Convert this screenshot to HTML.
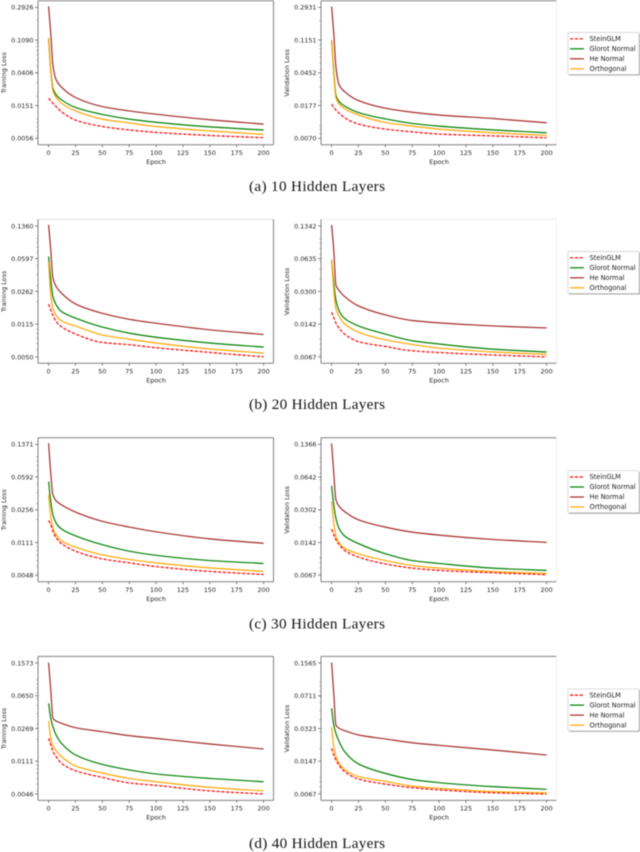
<!DOCTYPE html>
<html>
<head>
<meta charset="utf-8">
<title>Training and validation loss by hidden layers</title>
<style>
html,body{margin:0;padding:0;background:#fff;width:640px;height:852px;overflow:hidden}
svg{display:block;filter:blur(0.45px)}
text{font-family:"DejaVu Sans","Liberation Sans",sans-serif;fill:#222}
text.cap{font-family:"Liberation Serif",serif;fill:#111}
</style>
</head>
<body>
<svg id="fig" xmlns="http://www.w3.org/2000/svg" width="640" height="852" viewBox="0 0 640 852">
<text class="cap" x="317" y="191" font-size="15.2" text-anchor="middle" textLength="136" lengthAdjust="spacing">(a) 10 Hidden Layers</text>
<text class="cap" x="317" y="409" font-size="15.2" text-anchor="middle" textLength="136" lengthAdjust="spacing">(b) 20 Hidden Layers</text>
<text class="cap" x="317" y="628.5" font-size="15.2" text-anchor="middle" textLength="136" lengthAdjust="spacing">(c) 30 Hidden Layers</text>
<text class="cap" x="317" y="848" font-size="15.2" text-anchor="middle" textLength="136" lengthAdjust="spacing">(d) 40 Hidden Layers</text>
</svg>
<script>
const epochs = [0,2,4,7,12,25,50,75,100,150,200];
const xTickLabels = [0,25,50,75,100,125,150,175,200];
const legendLabels = ["SteinGLM","Glorot Normal","He Normal","Orthogonal"];

const ticksATrain = ["0.2926","0.1090","0.0406","0.0151","0.0056"];
const redATrain = [.0188,.0173,.0161,.0146,.0125,.0097,.0080,.0072,.0067,.0061,.0057];
const greenATrain = [.115,.0444,.0254,.0208,.0179,.0142,.0115,.0100,.0091,.0079,.0072];
const brownATrain = [.300,.134,.0515,.0327,.0262,.0192,.0146,.0128,.0116,.0098,.0086];
const orangeATrain = [.115,.0421,.0236,.0192,.0161,.0128,.0100,.0089,.0080,.0070,.0063];

const ticksAVal = ["0.2931","0.1151","0.0452","0.0177","0.0070"];
const redAVal = [.0185,.0169,.0157,.0143,.0126,.0105,.0091,.0084,.0079,.0075,.0071];
const greenAVal = [.1151,.0469,.0241,.0199,.0176,.0146,.0122,.0107,.0099,.0089,.0082];
const brownAVal = [.2995,.140,.0541,.0320,.0265,.0205,.0165,.0147,.0136,.0123,.0109];
const orangeAVal = [.1151,.0447,.0225,.0186,.0163,.0136,.0110,.0099,.0091,.0082,.0076];

const ticksBTrain = ["0.1360","0.0597","0.0262","0.0115","0.0050"];
const redBTrain = [.0189,.0164,.0142,.0122,.0107,.0089,.0072,.0068,.0063,.0056,.0050];
const greenBTrain = [.0628,.0349,.0229,.0186,.0157,.0133,.0106,.0091,.0082,.0071,.0064];
const brownBTrain = [.1397,.0744,.0364,.0295,.0249,.0190,.0150,.0129,.0117,.0099,.0088];
const orangeBTrain = [.0554,.0239,.0171,.0142,.0124,.0109,.0087,.0078,.0071,.0061,.0055];

const ticksBVal = ["0.1342","0.0635","0.0300","0.0142","0.0067"];
const redBVal = [.0186,.0165,.0145,.0129,.0113,.0095,.0085,.0077,.0074,.0070,.0067];
const greenBVal = [.0617,.0362,.0247,.0192,.0162,.0136,.0113,.0097,.0090,.0080,.0075];
const brownBVal = [.1372,.0777,.0348,.0306,.0267,.0215,.0175,.0154,.0146,.0136,.0130];
const orangeBVal = [.0617,.0311,.0201,.0169,.0143,.0118,.0099,.0089,.0082,.0075,.0071];

const ticksCTrain = ["0.1371","0.0592","0.0256","0.0111","0.0048"];
const redCTrain = [.0195,.0175,.0148,.0125,.0108,.0089,.0073,.0066,.0060,.0053,.0049];
const greenCTrain = [.0529,.0317,.0226,.0183,.0157,.0132,.0105,.0089,.0080,.0070,.0065];
const brownCTrain = [.1407,.0655,.0376,.0323,.0291,.0242,.0191,.0165,.0146,.0122,.0109];
const orangeCTrain = [.0376,.0216,.0161,.0135,.0116,.0099,.0081,.0072,.0066,.0058,.0053];

const ticksCVal = ["0.1366","0.0642","0.0302","0.0142","0.0067"];
const redCVal = [.0194,.0170,.0152,.0136,.0119,.0102,.0087,.0079,.0075,.0071,.0068];
const greenCVal = [.0525,.0339,.0250,.0196,.0166,.0139,.0110,.0094,.0088,.0079,.0075];
const brownCVal = [.1396,.0703,.0381,.0327,.0291,.0240,.0203,.0181,.0169,.0153,.0143];
const orangeCVal = [.0366,.0223,.0164,.0141,.0125,.0110,.0094,.0084,.0079,.0073,.0070];

const ticksDTrain = ["0.1573","0.0650","0.0269","0.0111","0.0046"];
const redDTrain = [.0206,.0173,.0144,.0126,.0105,.0086,.0072,.0062,.0058,.0050,.0046];
const greenDTrain = [.0531,.0354,.0283,.0226,.0180,.0132,.0102,.0088,.0079,.0070,.0064];
const brownDTrain = [.1588,.0760,.0354,.0329,.0309,.0275,.0247,.0222,.0206,.0177,.0155];
const orangeDTrain = [.0329,.0206,.0168,.0148,.0126,.0098,.0081,.0070,.0064,.0055,.0050];

const ticksDVal = ["0.1565","0.0711","0.0323","0.0147","0.0067"];
const redDVal = [.0201,.0171,.0152,.0133,.0115,.0096,.0085,.0078,.0074,.0069,.0067];
const greenDVal = [.0526,.0352,.0288,.0236,.0186,.0138,.0110,.0095,.0088,.0080,.0075];
const brownDVal = [.1580,.0755,.0352,.0325,.0308,.0277,.0252,.0230,.0216,.0193,.0171];
const orangeDVal = [.0333,.0209,.0165,.0140,.0121,.0102,.0091,.0081,.0077,.0071,.0069];

const NS = "http://www.w3.org/2000/svg";
const fig = document.getElementById("fig");
const GRAY = "#808080", FAINT = "#eeeeee";
const seriesColors = ["#ff0000","#008000","#a52a2a","#ffa500"];
const seriesNames = ["stein-glm","glorot-normal","he-normal","orthogonal"];

function make(parent, tag, attrs, txt) {
  const el = document.createElementNS(NS, tag);
  for (const k in attrs) el.setAttribute(k, attrs[k]);
  if (txt !== undefined) el.textContent = txt;
  parent.appendChild(el);
  return el;
}

function monotonePath(pts) {
  const n = pts.length, d = [], m = [];
  for (let i = 0; i < n - 1; i++) d.push((pts[i+1][1] - pts[i][1]) / (pts[i+1][0] - pts[i][0]));
  m[0] = d[0]; m[n-1] = d[n-2];
  for (let i = 1; i < n - 1; i++) {
    if (d[i-1] * d[i] <= 0) { m[i] = 0; continue; }
    const h0 = pts[i][0] - pts[i-1][0], h1 = pts[i+1][0] - pts[i][0];
    const w1 = 2*h1 + h0, w2 = h1 + 2*h0;
    m[i] = (w1 + w2) / (w1/d[i-1] + w2/d[i]);
  }
  let s = "M" + pts[0][0].toFixed(2) + " " + pts[0][1].toFixed(2);
  for (let i = 0; i < n - 1; i++) {
    const h = (pts[i+1][0] - pts[i][0]) / 3;
    s += "C" + (pts[i][0]+h).toFixed(2) + " " + (pts[i][1]+m[i]*h).toFixed(2) + " " +
         (pts[i+1][0]-h).toFixed(2) + " " + (pts[i+1][1]-m[i+1]*h).toFixed(2) + " " +
         pts[i+1][0].toFixed(2) + " " + pts[i+1][1].toFixed(2);
  }
  return s;
}

function drawPanel(p) {
  const left = p.left, right = p.left + 235.5, top = p.top, bottom = p.top + 144;
  const xZero = left + 10.6, xScale = 1.075;
  const yFirst = top + 6.6, yLast = top + 137.6;
  const vTop = parseFloat(p.ticks[0]), vBot = parseFloat(p.ticks[p.ticks.length - 1]);
  const xOf = e => xZero + e * xScale;
  const yOf = v => yLast - Math.log(v / vBot) / Math.log(vTop / vBot) * (yLast - yFirst);

  const g = make(fig, "g", {});
  
  

  const seriesValues = [p.red, p.green, p.brown, p.orange];
  seriesValues.forEach((vals, i) => {
    const path = make(g, "path", {
      d: monotonePath(vals.map((v, j) => [xOf(epochs[j]), yOf(v)])),
      fill: "none", stroke: seriesColors[i], "stroke-width": 1.2,
      "stroke-linejoin": "round"
    });
    if (i === 0) path.setAttribute("stroke-dasharray", "3.2 1.6");
    
    
  });

  const spines = [
    [left, top, left, bottom, GRAY, "left"],
    [left, bottom, right, bottom, GRAY, "bottom"],
    [left, top, right, top, p.topColor, "top"],
    [right, top, right, bottom, p.rightColor, "right"]
  ];
  spines.forEach(sp => {
    const line = make(g, "line", {x1: sp[0], y1: sp[1], x2: sp[2], y2: sp[3], stroke: sp[4], "stroke-width": 1});
    
    
  });

  xTickLabels.forEach(t => {
    const tick = make(g, "line", {x1: xOf(t), y1: bottom, x2: xOf(t), y2: bottom + 2.5, stroke: "#555", "stroke-width": 0.7});
    
    
    const lab = make(g, "text", {x: xOf(t), y: bottom + 10.3, "font-size": 6.4, "text-anchor": "middle"}, String(t));
    
    
  });

  p.ticks.forEach((t, i) => {
    const y = yFirst + (yLast - yFirst) * i / (p.ticks.length - 1);
    const tick = make(g, "line", {x1: left - 3, y1: y, x2: left, y2: y, stroke: "#555", "stroke-width": 0.7});
    
    
    const lab = make(g, "text", {x: left - 4.5, y: y + 2.4, "font-size": 6.4, "text-anchor": "end"}, t);
    
    
  });

  for (let k = -3; k <= -1; k++) {
    for (let m = 1; m <= 9; m++) {
      const v = m * Math.pow(10, k);
      if (v < vBot || v > vTop) continue;
      const minor = make(g, "line", {x1: left - 1.8, y1: yOf(v), x2: left, y2: yOf(v), stroke: "#777", "stroke-width": 0.5});
      
      
    }
  }

  const xTitle = make(g, "text", {x: xOf(100), y: bottom + 19.3, "font-size": 6.4, "text-anchor": "middle"}, "Epoch");
  
  
  const yMid = (yFirst + yLast) / 2, yX = left - 32;
  const yTitle = make(g, "text", {x: yX, y: yMid, "font-size": 6.4, "text-anchor": "middle",
    transform: "rotate(-90 " + yX + " " + yMid + ")"}, p.yTitle);
  
  
}

function drawLegend(top, name) {
  const g = make(fig, "g", {});
  
  
  const shadow = make(g, "rect", {x: 569, y: top + 1, width: 71, height: 42, rx: 1, fill: "#999"});
  
  
  const box = make(g, "rect", {x: 568, y: top, width: 71, height: 42, rx: 1, fill: "#fff", stroke: "#cccccc", "stroke-width": 0.7});
  
  
  legendLabels.forEach((lab, i) => {
    const y = top + 6.3 + i * 10;
    const h = make(g, "line", {x1: 570, y1: y, x2: 584, y2: y, stroke: seriesColors[i], "stroke-width": 1.2});
    if (i === 0) h.setAttribute("stroke-dasharray", "3.2 1.6");
    
    
    const t = make(g, "text", {x: 589.5, y: y + 2.2, "font-size": 6.6}, lab);
    
    
  });
}

const panels = [
  {name:"a-train",left:38,top:0.7,yTitle:"Training Loss",topColor:GRAY,rightColor:GRAY,ticks:ticksATrain,red:redATrain,green:greenATrain,brown:brownATrain,orange:orangeATrain},
  {name:"a-val",left:321,top:0.7,yTitle:"Validation Loss",topColor:GRAY,rightColor:FAINT,ticks:ticksAVal,red:redAVal,green:greenAVal,brown:brownAVal,orange:orangeAVal},
  {name:"b-train",left:38,top:219.3,yTitle:"Training Loss",topColor:"#dddddd",rightColor:GRAY,ticks:ticksBTrain,red:redBTrain,green:greenBTrain,brown:brownBTrain,orange:orangeBTrain},
  {name:"b-val",left:321,top:219.3,yTitle:"Validation Loss",topColor:FAINT,rightColor:FAINT,ticks:ticksBVal,red:redBVal,green:greenBVal,brown:brownBVal,orange:orangeBVal},
  {name:"c-train",left:38,top:437.7,yTitle:"Training Loss",topColor:GRAY,rightColor:GRAY,ticks:ticksCTrain,red:redCTrain,green:greenCTrain,brown:brownCTrain,orange:orangeCTrain},
  {name:"c-val",left:321,top:437.7,yTitle:"Validation Loss",topColor:GRAY,rightColor:FAINT,ticks:ticksCVal,red:redCVal,green:greenCVal,brown:brownCVal,orange:orangeCVal},
  {name:"d-train",left:38,top:656.4,yTitle:"Training Loss",topColor:GRAY,rightColor:GRAY,ticks:ticksDTrain,red:redDTrain,green:greenDTrain,brown:brownDTrain,orange:orangeDTrain},
  {name:"d-val",left:321,top:656.4,yTitle:"Validation Loss",topColor:GRAY,rightColor:FAINT,ticks:ticksDVal,red:redDVal,green:greenDVal,brown:brownDVal,orange:orangeDVal}
];
panels.forEach(drawPanel);

drawLegend(32.5, "legend-10-layers");
drawLegend(251.5, "legend-20-layers");
drawLegend(470.7, "legend-30-layers");
drawLegend(688.8, "legend-40-layers");
</script>
</body>
</html>
